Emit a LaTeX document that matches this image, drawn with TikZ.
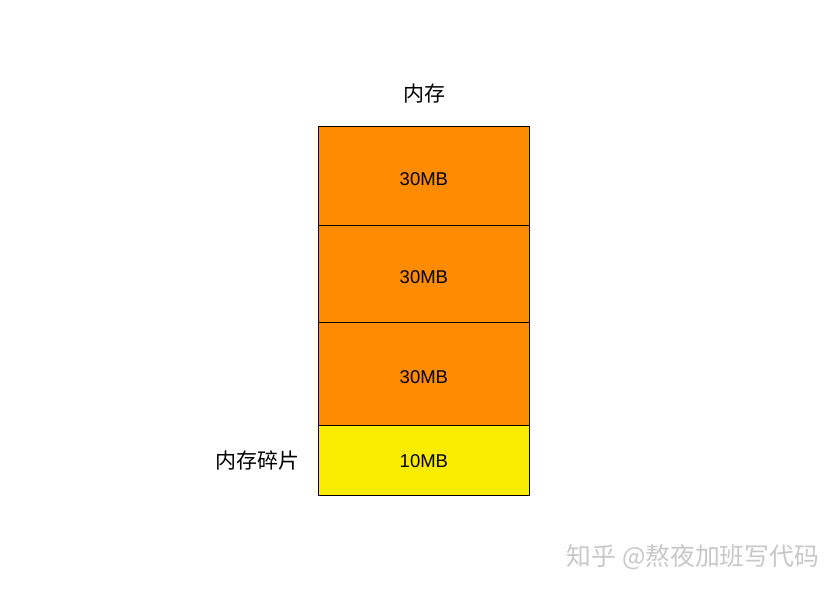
\documentclass[tikz,border=0pt]{standalone}
\usepackage{fontspec}
\setmainfont{Liberation Sans}
\newfontfamily\cjk{Noto Sans CJK SC}
\definecolor{memorange}{RGB}{255,140,0}
\definecolor{memyellow}{RGB}{250,236,0}
\definecolor{wmgray}{RGB}{200,200,200}
\begin{document}
\begin{tikzpicture}[x=1pt,y=-1pt,
  block/.style={draw=black,line width=0.8pt,anchor=north west,inner sep=0pt,font=\fontsize{18.5}{20}\selectfont},
  txt/.style={font=\fontsize{18.5}{20}\selectfont,inner sep=0pt},
  lbl/.style={font=\cjk\fontsize{21}{23}\selectfont,inner sep=0pt}]
\useasboundingbox[fill=white] (0,0) rectangle (839,592);
\node[block,fill=memorange,minimum width=211pt,minimum height=99pt] (b1) at (318,126) {};
\node[block,fill=memorange,minimum width=211pt,minimum height=97pt] (b2) at (318,225) {};
\node[block,fill=memorange,minimum width=211pt,minimum height=103pt] (b3) at (318,322) {};
\node[block,fill=memyellow,minimum width=211pt,minimum height=70pt] (b4) at (318,425) {};
\node[txt] (t1) at ([yshift=-3pt]b1.center) {30MB};
\node[txt] (t2) at ([yshift=-3pt]b2.center) {30MB};
\node[txt] (t3) at ([yshift=-3pt]b3.center) {30MB};
\node[txt] (t4) at ([yshift=-1pt]b4.center) {10MB};
\node[lbl] (title) at (424,94) {内存};
\node[lbl] (frag) at (257,461) {内存碎片};
\node[font=\cjk\fontsize{24.8}{26}\selectfont,text=wmgray,inner sep=0pt] (wm) at (693,557) {知乎 @熬夜加班写代码};
\end{tikzpicture}
\end{document}
